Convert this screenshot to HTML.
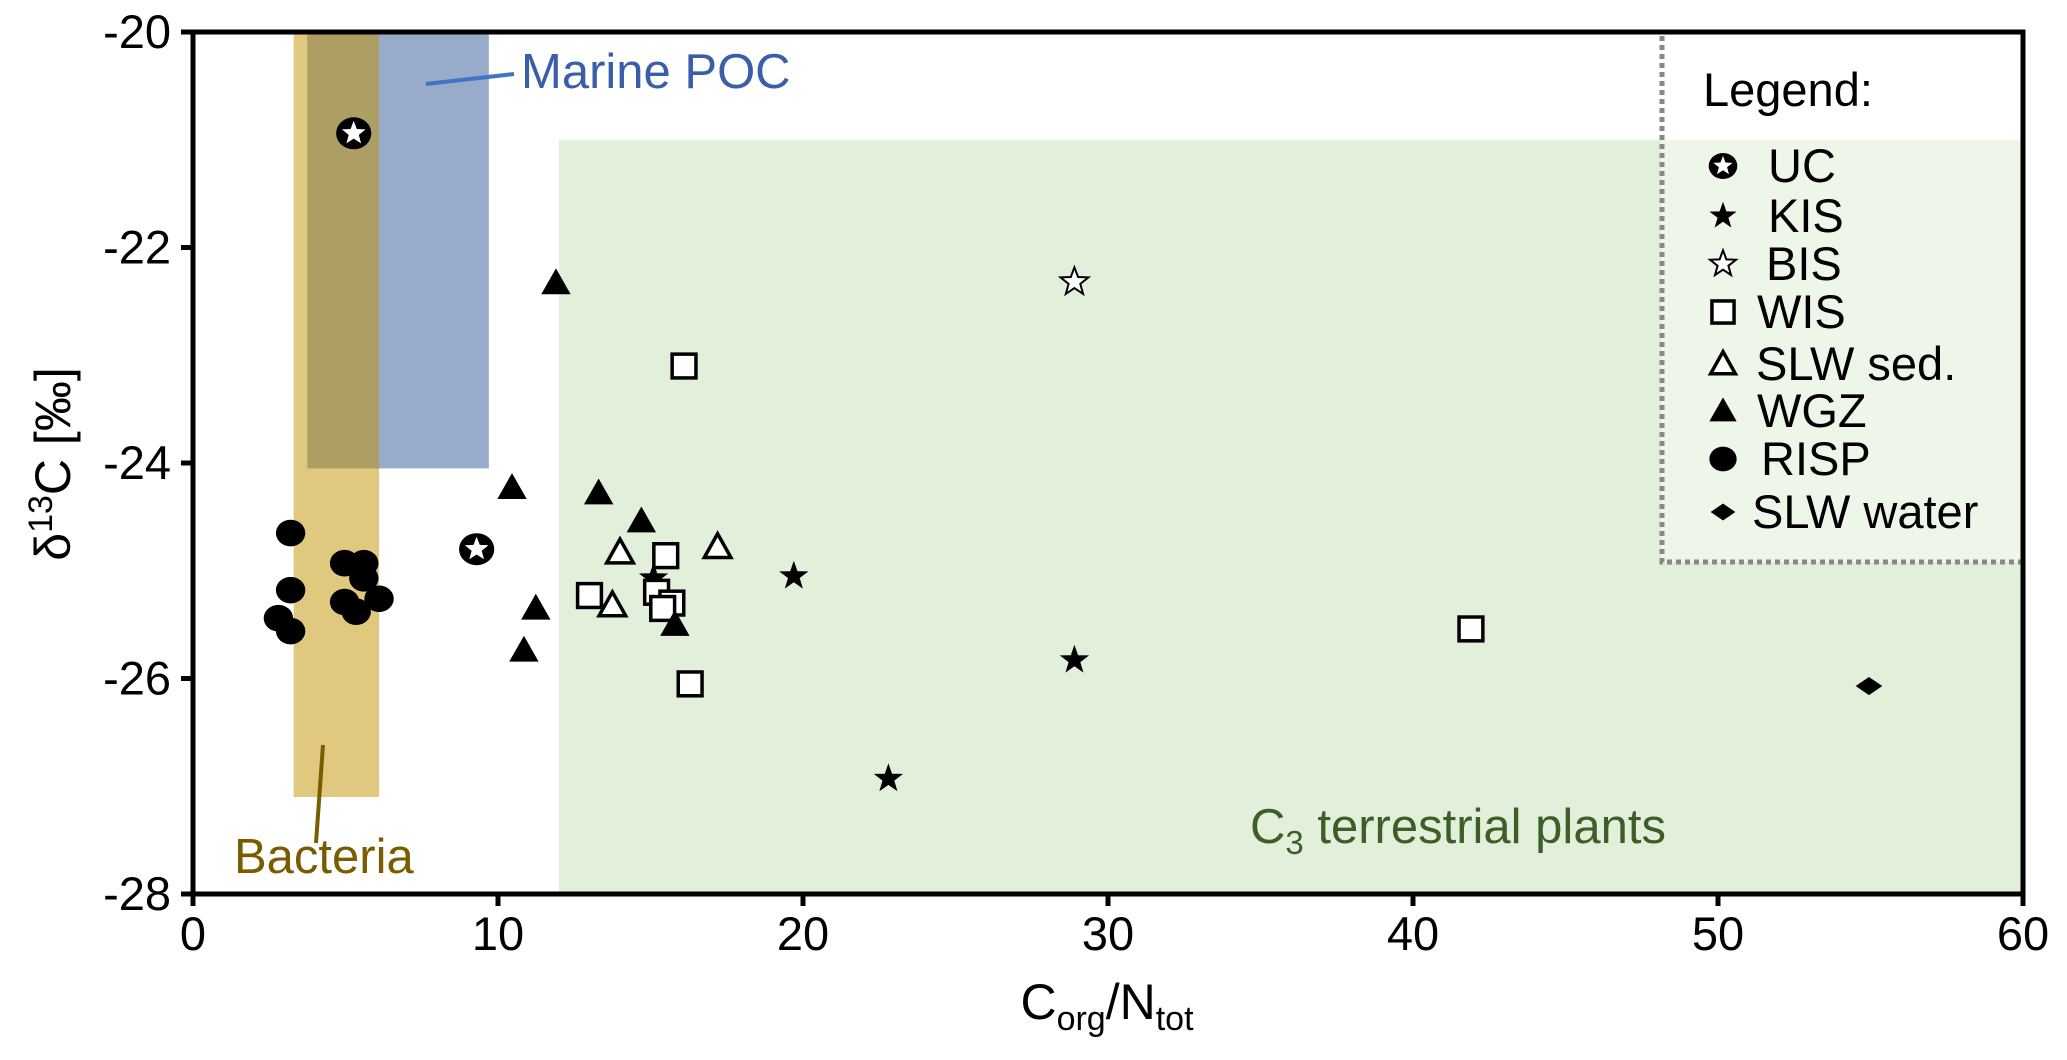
<!DOCTYPE html>
<html><head><meta charset="utf-8">
<style>
html,body{margin:0;padding:0;background:#fff;}
svg{display:block;font-family:"Liberation Sans","DejaVu Sans",sans-serif;}
</style></head>
<body>
<svg id="chart" width="2067" height="1060" viewBox="0 0 2067 1060" xmlns="http://www.w3.org/2000/svg"></svg>
<script>
// ---- data ----
const xTicks = [0,10,20,30,40,50,60];
const yTicks = [-20,-22,-24,-26,-28];
const ucX = [5.27, 9.3];
const ucY = [-20.94, -24.8];
const kisX = [15.1, 19.7, 28.9, 22.8];
const kisY = [-25.07, -25.05, -25.83, -26.93];
const bisX = [28.9];
const bisY = [-22.32];
const wisX = [16.1, 13.0, 15.5, 15.2, 15.7, 15.4, 16.3, 41.9];
const wisY = [-23.1, -25.23, -24.86, -25.2, -25.3, -25.35, -26.05, -25.54];
const slwSedX = [14.0, 13.75, 17.2];
const slwSedY = [-24.83, -25.32, -24.78];
const wgzX = [11.9, 10.46, 13.3, 14.7, 11.24, 10.85, 15.8];
const wgzY = [-22.33, -24.23, -24.28, -24.54, -25.35, -25.74, -25.5];
const rispX = [3.2, 3.2, 2.8, 3.2, 4.97, 5.6, 5.6, 4.97, 5.35, 6.1];
const rispY = [-24.65, -25.18, -25.44, -25.56, -24.93, -24.93, -25.07, -25.29, -25.38, -25.26];
const slwWaterX = [54.95];
const slwWaterY = [-26.07];
// ranges: [xmin, xmax, ymin, ymax]
const bacteriaRange = [3.3, 6.1, -27.1, -20];
const marineRange = [3.75, 9.7, -24.05, -20];
const plantsRange = [12, 60, -28, -21];

// ---- axes ----
const X0=193, X1=2023, Y0=32, Y1=894;
const sx = v => X0 + (v-0)/(60-0)*(X1-X0);
const sy = v => Y0 + (-20 - v)/8*(Y1-Y0);
const svg = document.getElementById('chart');
const NS='http://www.w3.org/2000/svg';
function mk(tag, attrs, parent){
  const e=document.createElementNS(NS,tag);
  for(const k in attrs) e.setAttribute(k,attrs[k]);
  (parent||svg).appendChild(e); return e;
}
function rectR(r, fill, name){
  const e=mk('rect',{x:sx(r[0]),y:sy(r[3]),width:sx(r[1])-sx(r[0]),height:sy(r[2])-sy(r[3]),fill:fill});
  
  
  return e;
}
rectR(plantsRange,'#e2efda','c3-plants-region');
rectR(bacteriaRange,'#e0c87f','bacteria-region');
rectR(marineRange,'#98abcb','marine-poc-region');
const ov=[Math.max(bacteriaRange[0],marineRange[0]),Math.min(bacteriaRange[1],marineRange[1]),Math.max(bacteriaRange[2],marineRange[2]),Math.min(bacteriaRange[3],marineRange[3])];
rectR(ov,'#ad9f64','overlap-region');

// legend box
const lg=mk('rect',{x:1661,y:35,width:360,height:527,fill:'#fff'});


const lg2=mk('rect',{x:1661,y:sy(-21),width:360,height:562-sy(-21),fill:'#eef6ea'});


const lg3=mk('path',{d:'M1662,36 L1662,562 L2021,562',fill:'none',stroke:'#888','stroke-width':5,'stroke-dasharray':'5,4'});



function txt(x,y,s,attrs,name){
  const t=mk('text',Object.assign({x:x,y:y},attrs));
  t.textContent=s;
  
  
  return t;
}
const l1=mk('line',{x1:426,y1:84,x2:514,y2:74,stroke:'#4472c4','stroke-width':4});


txt(521,88,'Marine POC',{'font-size':49,fill:'#3a5ea8'},'marine-poc-label');
const l2=mk('line',{x1:323,y1:745,x2:316,y2:843,stroke:'#7a5c00','stroke-width':4});


txt(234,873,'Bacteria',{'font-size':49,fill:'#7a5c00'},'bacteria-label');
const c3=txt(1250,843,'C',{'font-size':49,fill:'#3d5e26'},'c3-plants-label');
const sub=mk('tspan',{'font-size':33,dy:11},c3); sub.textContent='3';
const rest=mk('tspan',{dy:-11},c3); rest.textContent=' terrestrial plants';

function starPts(cx,cy,R,r){
  let p=[];for(let i=0;i<10;i++){const a=-Math.PI/2+i*Math.PI/5;const rr=i%2?r:R;p.push((cx+rr*Math.cos(a)).toFixed(1)+','+(cy+rr*Math.sin(a)).toFixed(1));}
  return p.join(' ');
}
function marker(type,cx,cy,s,parent){
  const g=mk('g',{},parent);
  if(type==='uc'){mk('ellipse',{cx:cx,cy:cy,rx:s*1.1,ry:s*1.0,fill:'#000'},g);mk('polygon',{points:starPts(cx,cy,s*0.78,s*0.33),fill:'#fff'},g);}
  else if(type==='kis'){mk('polygon',{points:starPts(cx,cy,s*1.1,s*0.44),fill:'#000'},g);}
  else if(type==='bis'){mk('polygon',{points:starPts(cx,cy,s*1.05,s*0.44),fill:'#fff',stroke:'#000','stroke-width':2},g);}
  else if(type==='wis'){mk('rect',{x:cx-s*0.85,y:cy-s*0.85,width:s*1.7,height:s*1.7,fill:'#fff',stroke:'#000','stroke-width':3.5},g);}
  else if(type==='sed'){mk('polygon',{points:`${cx},${cy-s*0.95} ${cx+s*0.95},${cy+s*0.75} ${cx-s*0.95},${cy+s*0.75}`,fill:'#fff',stroke:'#000','stroke-width':3.5},g);}
  else if(type==='wgz'){mk('polygon',{points:`${cx},${cy-s*1.05} ${cx+s*1.05},${cy+s*0.8} ${cx-s*1.05},${cy+s*0.8}`,fill:'#000'},g);}
  else if(type==='risp'){mk('ellipse',{cx:cx,cy:cy,rx:s*1.05,ry:s*0.95,fill:'#000'},g);}
  else if(type==='water'){mk('polygon',{points:`${cx},${cy-s*0.65} ${cx+s*0.95},${cy} ${cx},${cy+s*0.65} ${cx-s*0.95},${cy}`,fill:'#000'},g);}
  return g;
}
const series=[['kis',kisX,kisY,'kis-point'],['wis',wisX,wisY,'wis-point'],['sed',slwSedX,slwSedY,'slw-sed-point'],['wgz',wgzX,wgzY,'wgz-point'],['risp',rispX,rispY,'risp-point'],['uc',ucX,ucY,'uc-point'],['bis',bisX,bisY,'bis-point'],['water',slwWaterX,slwWaterY,'slw-water-point']];
series.forEach(([t,xs,ys,name])=>{
  xs.forEach((v,i)=>{
    const g=marker(t,sx(v),sy(ys[i]),t==='uc'?16:14);
    
    
  });
});

txt(1703,106,'Legend:',{'font-size':47,fill:'#000'},'legend-title');
const legNames=['UC','KIS','BIS','WIS','SLW sed.','WGZ','RISP','SLW water'];
const legTypes=['uc','kis','bis','wis','sed','wgz','risp','water'];
const legBase=[182,232,280,328,380,427,475,528];
const legTx=[1768,1768,1766,1757,1756,1757,1761,1752];
legNames.forEach((n,i)=>{
  const g=marker(legTypes[i],1723,legBase[i]-16,13);
  
  
  txt(legTx[i],legBase[i],n,{'font-size':47,fill:'#000'},'legend-entry-'+legTypes[i]);
});

const ax=mk('path',{d:`M${X0},${Y0} L${X1},${Y0} L${X1},${Y1} L${X0},${Y1} Z`,fill:'none',stroke:'#000','stroke-width':5});


xTicks.forEach(v=>{
  const tk=mk('line',{x1:sx(v),y1:Y1,x2:sx(v),y2:Y1+12,stroke:'#000','stroke-width':5});
  
  
  txt(sx(v),Y1+56,String(v),{'font-size':47,'text-anchor':'middle',fill:'#000'},'x-tick-label');
});
yTicks.forEach(v=>{
  const tk=mk('line',{x1:X0-12,y1:sy(v),x2:X0,y2:sy(v),stroke:'#000','stroke-width':5});
  
  
  txt(X0-22,sy(v)+16,String(v),{'font-size':47,'text-anchor':'end',fill:'#000'},'y-tick-label');
});
const xt=txt(1107,1019,'',{'font-size':50,'text-anchor':'middle',fill:'#000'},'x-axis-title');
const a1=mk('tspan',{},xt);a1.textContent='C';
const a2=mk('tspan',{'font-size':34,dy:11},xt);a2.textContent='org';
const a3=mk('tspan',{dy:-11},xt);a3.textContent='/N';
const a4=mk('tspan',{'font-size':34,dy:11},xt);a4.textContent='tot';
const yt=txt(0,0,'',{'font-size':50,'text-anchor':'middle',fill:'#000',transform:'translate(70,464) rotate(-90)'},'y-axis-title');
const b1=mk('tspan',{},yt);b1.textContent='δ';
const b2=mk('tspan',{'font-size':34,dy:-18},yt);b2.textContent='13';
const b3=mk('tspan',{dy:18},yt);b3.textContent='C [‰]';
</script>
</body></html>
